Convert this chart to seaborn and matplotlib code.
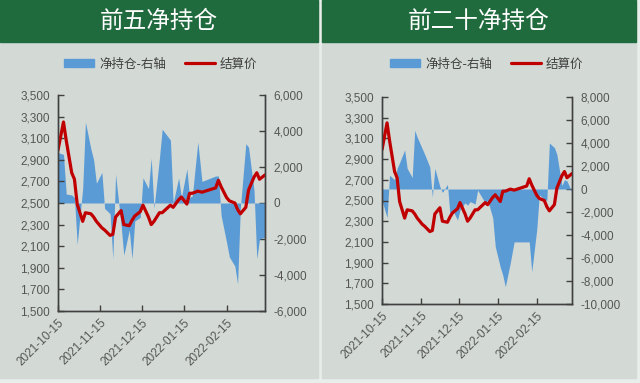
import numpy as np
import pandas as pd
import matplotlib
matplotlib.use('Agg')
import matplotlib.pyplot as plt
import matplotlib.dates as mdates
from matplotlib.patches import Rectangle, Patch
from matplotlib.lines import Line2D
from matplotlib.ticker import FuncFormatter
import seaborn as sns

dates = ['2021-10-15', '2021-10-19', '2021-10-21', '2021-10-25', '2021-10-27', '2021-10-29',
         '2021-11-02', '2021-11-04', '2021-11-08', '2021-11-10', '2021-11-12', '2021-11-16',
         '2021-11-18', '2021-11-22', '2021-11-24', '2021-11-26', '2021-11-30',
         '2021-12-02', '2021-12-06', '2021-12-08', '2021-12-10', '2021-12-14', '2021-12-16',
         '2021-12-20', '2021-12-22', '2021-12-24', '2021-12-28', '2021-12-30',
         '2022-01-05', '2022-01-07', '2022-01-11', '2022-01-13', '2022-01-17', '2022-01-19',
         '2022-01-21', '2022-01-25', '2022-01-28',
         '2022-02-07', '2022-02-09', '2022-02-11', '2022-02-15', '2022-02-17', '2022-02-21',
         '2022-02-23', '2022-02-25',
         '2022-03-01', '2022-03-03', '2022-03-07', '2022-03-09', '2022-03-11', '2022-03-15']

price = [2990, 3250, 3080, 2780, 2720, 2490,
         2330, 2410, 2400, 2370, 2330, 2270, 2250, 2200, 2210, 2370, 2430,
         2300, 2290, 2340, 2380, 2420, 2480, 2370, 2300, 2330, 2410, 2410,
         2480, 2460, 2530, 2555, 2490, 2590, 2590, 2610, 2600,
         2640, 2710, 2650, 2550, 2520, 2500, 2440, 2400,
         2460, 2620, 2740, 2780, 2720, 2760]

net_top5 = [2800, 2700, 500, 450, 300, -2300,
            800, 4500, 3000, 2400, 1100, 1700, -300, -600, -3100, 1600, -1200,
            -2900, -1500, -3100, -1000, -800, 1400, 800, 2500, -300, 2500, 4100,
            3500, 0, 1400, 300, 1900, 300, 400, 3400, 1200,
            1500, 1500, -700, -2200, -3000, -3500, -4500, -300,
            3300, 3100, 700, -3100, -2000, -1900]

net_top20 = [-1000, -2500, 1200, 800, 1800, 2300,
             3400, 1800, 1000, 5100, 4500, 3500, 3000, 1900, -700, 1800, 200,
             -300, 400, -2200, -1800, -2700, -1800, -1200, -1400, -1100, -1300, -100,
             -1200, -1000, -2500, -5000, -6800, -7500, -8500, -6400, -4600,
             -4600, -4600, -7200, -3500, -500, -900, -1000, 4000,
             3600, 3000, 300, 800, 700, -300]

titles = ['前五净持仓', '前二十净持仓']
tick_dates = ['2021-10-15', '2021-11-15', '2021-12-15', '2022-01-15', '2022-02-15']
price_ticks = list(range(1500, 3501, 200))
net_ticks = [list(range(-6000, 6001, 2000)), list(range(-10000, 8001, 2000))]

sns.set_style('white')
plt.rcParams['font.family'] = ['Liberation Sans', 'Noto Sans CJK SC']

W, H = 640, 383
fig = plt.figure(figsize=(W / 100, H / 100), dpi=100)
fig.patch.set_facecolor('#E8EEEA')

blue = '#5B9BD5'
red = '#C00000'
green = '#1F6B3D'
panel_bg = '#D3DAD6'
dark = '#404040'

df = pd.DataFrame({'date': pd.to_datetime(dates), 'price': price,
                   'net5': net_top5, 'net20': net_top20})

panels = [(0, 318), (322, 636)]
axes_px = [(58, 95, 265, 311), (382, 97, 572, 304)]
legend_cx = [161, 487]
fmt = FuncFormatter(lambda v, p: f'{v:,.0f}')

for i, col in enumerate(['net5', 'net20']):
    x0, x1 = panels[i]
    fig.add_artist(Rectangle((x0 / W, 1 - 378 / H), (x1 - x0) / W, 378 / H,
                             transform=fig.transFigure, color=panel_bg, zorder=-2))
    fig.add_artist(Rectangle((x0 / W, 1 - 42 / H), (x1 - x0) / W, 42 / H,
                             transform=fig.transFigure, color=green, zorder=-1))
    fig.text((x0 + x1) / 2 / W, 1 - 21 / H, titles[i], color='white', fontsize=17,
             ha='center', va='center', family=['Noto Sans CJK SC'])

    l, t, r, b = axes_px[i]
    ax = fig.add_axes([l / W, 1 - b / H, (r - l) / W, (b - t) / H])
    ax2 = ax.twinx()
    ax2.fill_between(df['date'], 0, df[col], color=blue, lw=0, interpolate=True)
    sns.lineplot(data=df, x='date', y='price', ax=ax, color=red, lw=2.3)

    # red line above the blue area
    ax.set_zorder(ax2.get_zorder() + 1)
    ax.patch.set_visible(False)
    ax2.patch.set_visible(False)

    ax.set_xlim(pd.Timestamp('2021-10-15'), pd.Timestamp('2022-03-15'))
    ax.set_ylim(1500, 3500)
    ax.set_yticks(price_ticks)
    ax.yaxis.set_major_formatter(fmt)
    ax2.set_ylim(net_ticks[i][0], net_ticks[i][-1])
    ax2.set_yticks(net_ticks[i])
    ax2.yaxis.set_major_formatter(fmt)

    ax.set_xticks(pd.to_datetime(tick_dates))
    ax.xaxis.set_major_formatter(mdates.DateFormatter('%Y-%m-%d'))
    for lab in ax.get_xticklabels():
        lab.set_rotation(45)
        lab.set_ha('right')
        lab.set_rotation_mode('anchor')
    ax.set_xlabel('')
    ax.set_ylabel('')
    ax2.set_ylabel('')

    for a in (ax, ax2):
        a.tick_params(direction='in', length=4, width=1, color=dark,
                      labelsize=8.5, labelcolor='#555555', pad=6)
        a.spines['top'].set_visible(False)
        for s in ('left', 'right', 'bottom'):
            a.spines[s].set_color(dark)
            a.spines[s].set_linewidth(1)
    ax.tick_params(axis='x', pad=4)
    ax.tick_params(left=True, bottom=True)
    ax2.tick_params(right=True)

    handles = [Patch(color=blue), Line2D([], [], color=red, lw=2.3)]
    ax.legend(handles, ['净持仓-右轴', '结算价'], loc='center',
              bbox_to_anchor=(legend_cx[i] / W, 1 - 64 / H), bbox_transform=fig.transFigure,
              ncol=2, frameon=False, handlelength=2.4, handleheight=0.6,
              columnspacing=1.5, handletextpad=0.4,
              prop={'family': ['Noto Sans CJK SC'], 'size': 9}, labelcolor='#404040')

fig.savefig('out.png', dpi=100, facecolor=fig.get_facecolor())
